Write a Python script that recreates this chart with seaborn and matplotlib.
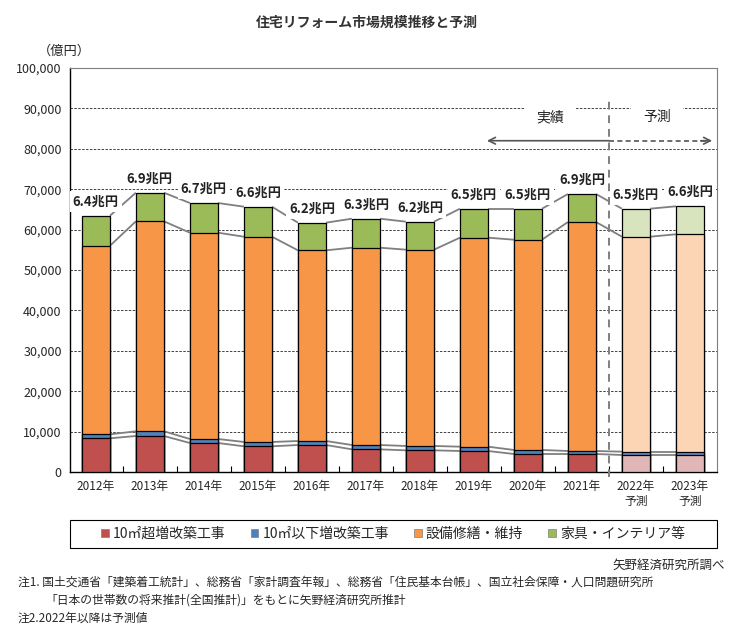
import numpy as np
import pandas as pd
import matplotlib
matplotlib.use('Agg')
import matplotlib.pyplot as plt
import seaborn as sns
from matplotlib.patches import Patch, Rectangle

# values in 億円
years = ['2012年', '2013年', '2014年', '2015年', '2016年', '2017年',
         '2018年', '2019年', '2020年', '2021年', '2022年', '2023年']
tick_labels = ['2012年', '2013年', '2014年', '2015年', '2016年', '2017年',
               '2018年', '2019年', '2020年', '2021年', '2022年\n予測', '2023年\n予測']
large_ext = [8340, 8910, 7180, 6360, 6680, 5610, 5360, 5200, 4460, 4460, 4210, 4210]
small_ext = [990, 1160, 990, 1070, 990, 1070, 1080, 1070, 990, 740, 820, 820]
equipment = [46670, 51980, 51060, 50810, 47200, 48840, 48590, 51730, 52050, 56680, 53210, 53810]
furniture = [7440, 7080, 7350, 7430, 6840, 7180, 6930, 7170, 7670, 6930, 6930, 6930]
total_labels = ['6.4兆円', '6.9兆円', '6.7兆円', '6.6兆円', '6.2兆円', '6.3兆円',
                '6.2兆円', '6.5兆円', '6.5兆円', '6.9兆円', '6.5兆円', '6.6兆円']
legend_labels = ['10㎡超増改築工事', '10㎡以下増改築工事', '設備修繕・維持', '家具・インテリア等']
n_actual = 10  # 2012-2021 actual, rest forecast

df = pd.DataFrame({'year': years, 'large': large_ext, 'small': small_ext,
                   'equip': equipment, 'furn': furniture})
df['c1'] = df['large']
df['c2'] = df['c1'] + df['small']
df['c3'] = df['c2'] + df['equip']
df['c4'] = df['c3'] + df['furn']

red, red_f = '#C0504D', '#E0B6B7'
blue, blue_f = '#4F81BD', '#5F8CC4'
orange, orange_f = '#F79646', '#FCD5B4'
green, green_f = '#9BBB59', '#D7E4BD'

def pal(c, cf):
    return [c] * n_actual + [cf] * (len(years) - n_actual)

sns.set_theme(style='white')
plt.rcParams['font.family'] = ['Noto Sans CJK JP', 'DejaVu Sans']

W, H = 739, 643
fig = plt.figure(figsize=(W / 100, H / 100), dpi=100)
ax = fig.add_axes([70 / W, 1 - 472 / H, 647 / W, 404 / H])

bw = 0.52
for col, c, cf in [('c4', green, green_f), ('c3', orange, orange_f),
                   ('c2', blue, blue_f), ('c1', red, red_f)]:
    sns.barplot(data=df, x='year', y=col, hue='year', palette=pal(c, cf),
                legend=False, dodge=False, width=bw, saturation=1,
                edgecolor='black', linewidth=0.9, ax=ax, zorder=3)

# series lines between bars
for col in ['c1', 'c2', 'c3', 'c4']:
    v = df[col].values
    for i in range(len(v) - 1):
        ax.plot([i + bw / 2, i + 1 - bw / 2], [v[i], v[i + 1]],
                color='#7f7f7f', lw=1.3, zorder=2, solid_capstyle='butt')

ax.set_xlim(-0.48, 11.5)
ax.set_ylim(0, 100000)
ax.set_yticks(range(0, 100001, 10000))
ax.set_yticklabels([f'{v:,}' for v in range(0, 100001, 10000)], fontsize=9)
ax.yaxis.grid(True, linestyle=(0, (2.5, 1.5)), color='#404040', lw=0.7)
ax.set_axisbelow(True)
ax.set_xticks(range(len(years)))
ax.set_xticklabels(tick_labels, fontsize=8.5, linespacing=1.2)
ax.set_xticks(np.arange(0.5, len(years) - 1, 1), minor=True)
ax.tick_params(axis='x', which='major', length=0, pad=6)
ax.tick_params(axis='x', which='minor', direction='in', length=4, width=0.8,
               color='black', bottom=True)
ax.tick_params(axis='y', length=0, pad=6)
ax.set_xlabel('')
ax.set_ylabel('')
for s in ['left', 'bottom']:
    ax.spines[s].set_color('black')
    ax.spines[s].set_linewidth(1)
for s in ['top', 'right']:
    ax.spines[s].set_color('#7f7f7f')
    ax.spines[s].set_linewidth(0.8)

# total labels
for i, lab in enumerate(total_labels):
    ax.text(i, df['c4'][i] + 3500, lab, ha='center', va='center', fontsize=9.5,
            fontweight='bold', color='#222222', zorder=6,
            bbox=dict(boxstyle='square,pad=0.25', fc='white', ec='none'))

# actual / forecast divider and arrows
ax.plot([9.5, 9.5], [-1200, 92600], color='#7f7f7f', lw=1.4,
        linestyle=(0, (4, 3)), zorder=4, clip_on=False)
ax.annotate('', xy=(7.24, 82000), xytext=(9.5, 82000),
            arrowprops=dict(arrowstyle='->', color='#555555', lw=1.2,
                            shrinkA=0, shrinkB=0), zorder=5)
ax.plot([9.5, 11.3], [82000, 82000], color='#555555', lw=1.2,
        linestyle=(0, (3, 2)), zorder=5)
ax.annotate('', xy=(11.41, 82000), xytext=(11.2, 82000),
            arrowprops=dict(arrowstyle='->', color='#555555', lw=1.2,
                            shrinkA=0, shrinkB=0), zorder=5)
for x, t in [(8.41, '実績'), (10.39, '予測')]:
    ax.text(x, 87800, t, ha='center', va='center', fontsize=10, color='#222222',
            zorder=6, bbox=dict(boxstyle='square,pad=0.9', fc='white', ec='none'))

# title and unit
fig.text(367 / W, 1 - 23 / H, '住宅リフォーム市場規模推移と予測', ha='center',
         va='center', fontsize=10, fontweight='bold', color='#333333')
fig.text(64 / W, 1 - 51 / H, '（億円）', ha='center', va='center', fontsize=9.5)

# legend with frame spanning the plot width
fig.patches.append(Rectangle((70 / W, 1 - 548 / H), 647 / W, 28 / H,
                             transform=fig.transFigure, fill=False,
                             ec='black', lw=0.8))
handles = [Patch(facecolor=c, edgecolor='#7f7f7f', lw=0.5)
           for c in [red, blue, orange, green]]
fig.legend(handles, legend_labels, loc='center', bbox_to_anchor=(393 / W, 1 - 534 / H),
           ncol=4, frameon=False, fontsize=10, handlelength=0.55, handleheight=0.55,
           handletextpad=0.3, columnspacing=1.8)

# source and notes
fig.text(725 / W, 1 - 565 / H, '矢野経済研究所調べ', ha='right', va='center', fontsize=9)
fig.text(18 / W, 1 - 582 / H,
         '注1. 国土交通省「建築着工統計」、総務省「家計調査年報」、総務省「住民基本台帳」、国立社会保障・人口問題研究所',
         ha='left', va='center', fontsize=8.5)
fig.text(45 / W, 1 - 600 / H,
         '「日本の世帯数の将来推計(全国推計)」をもとに矢野経済研究所推計',
         ha='left', va='center', fontsize=8.5)
fig.text(18 / W, 1 - 618 / H, '注2.2022年以降は予測値', ha='left', va='center', fontsize=8.5)

fig.savefig('out.png', dpi=100)
